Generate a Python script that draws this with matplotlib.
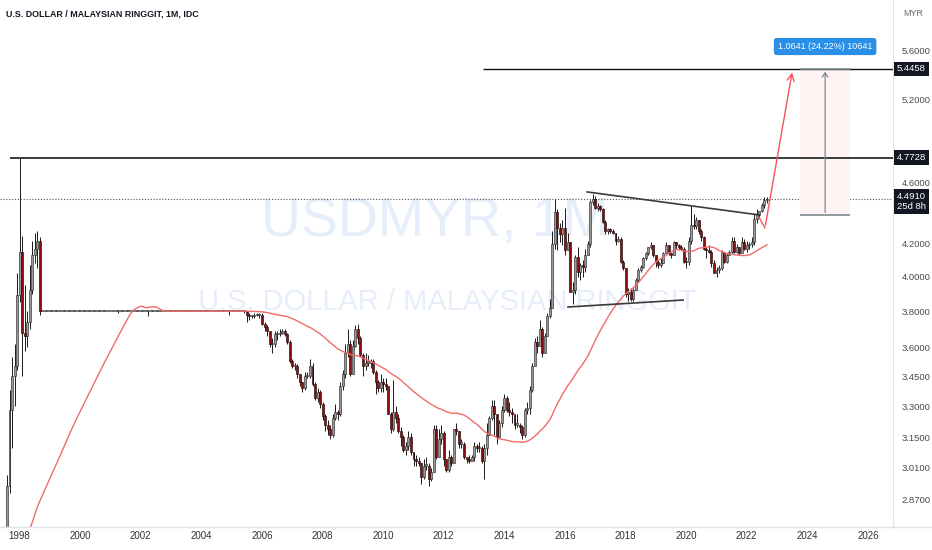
import numpy as np
import matplotlib
matplotlib.use('Agg')
import matplotlib.pyplot as plt
import matplotlib.transforms as mtransforms
from matplotlib.patches import Rectangle
from matplotlib.lines import Line2D

plt.rcParams['font.family'] = ['Liberation Sans', 'DejaVu Sans']

# monthly closes before the visible window (Jan 1994 - Jun 1997), only used by the MA
early_close = [
    2.77, 2.72, 2.71, 2.66, 2.59, 2.58, 2.56, 2.56, 2.56, 2.56, 2.56, 2.56,
    2.56, 2.55, 2.53, 2.46, 2.45, 2.44, 2.45, 2.49, 2.53, 2.53, 2.54, 2.54,
    2.54, 2.56, 2.56, 2.50, 2.49, 2.50, 2.49, 2.50, 2.51, 2.53, 2.53, 2.53,
    2.49, 2.48, 2.48, 2.50, 2.51, 2.52,
]

# monthly candles, Jul 1997 .. Sep 2022
close = [
    2.63, 2.93, 3.28, 3.45, 3.50, 3.89,                                # 1997 Jul-Dec
    4.15, 3.68, 3.66, 3.74, 3.92, 4.13, 4.17, 4.22, 3.80, 3.80, 3.80, 3.80,  # 1998
    3.80, 3.80, 3.80, 3.80, 3.80, 3.80, 3.80, 3.80, 3.80, 3.80, 3.80, 3.80,  # 1999
    3.80, 3.80, 3.80, 3.80, 3.80, 3.80, 3.80, 3.80, 3.80, 3.80, 3.80, 3.80,  # 2000
    3.80, 3.80, 3.80, 3.80, 3.80, 3.80, 3.80, 3.80, 3.80, 3.80, 3.80, 3.80,  # 2001
    3.80, 3.80, 3.80, 3.80, 3.80, 3.80, 3.80, 3.80, 3.80, 3.80, 3.80, 3.80,  # 2002
    3.80, 3.80, 3.80, 3.80, 3.80, 3.80, 3.80, 3.80, 3.80, 3.80, 3.80, 3.80,  # 2003
    3.80, 3.80, 3.80, 3.80, 3.80, 3.80, 3.80, 3.80, 3.80, 3.80, 3.80, 3.80,  # 2004
    3.80, 3.80, 3.80, 3.80, 3.80, 3.80, 3.78, 3.77, 3.77, 3.78, 3.78, 3.78,  # 2005
    3.73, 3.71, 3.69, 3.62, 3.62, 3.67, 3.67, 3.68, 3.69, 3.67, 3.63, 3.53,  # 2006
    3.50, 3.50, 3.46, 3.42, 3.39, 3.45, 3.45, 3.50, 3.41, 3.34, 3.37, 3.31,  # 2007
    3.25, 3.21, 3.19, 3.16, 3.24, 3.27, 3.26, 3.40, 3.46, 3.57, 3.62, 3.46,  # 2008
    3.61, 3.70, 3.65, 3.56, 3.50, 3.52, 3.52, 3.53, 3.47, 3.42, 3.39, 3.42,  # 2009
    3.41, 3.40, 3.26, 3.19, 3.27, 3.24, 3.18, 3.15, 3.09, 3.11, 3.15, 3.08,  # 2010
    3.05, 3.04, 3.03, 2.97, 3.02, 3.02, 2.96, 2.99, 3.19, 3.06, 3.14, 3.17,  # 2011
    3.05, 3.00, 3.06, 3.03, 3.19, 3.18, 3.12, 3.12, 3.06, 3.05, 3.04, 3.06,  # 2012
    3.11, 3.10, 3.10, 3.04, 3.10, 3.16, 3.24, 3.30, 3.26, 3.15, 3.22, 3.28,  # 2013
    3.34, 3.28, 3.27, 3.26, 3.21, 3.21, 3.20, 3.16, 3.28, 3.29, 3.38, 3.50,  # 2014
    3.63, 3.61, 3.70, 3.57, 3.66, 3.77, 3.82, 4.20, 4.40, 4.30, 4.26, 4.30,  # 2015
    4.16, 4.21, 3.91, 3.92, 4.12, 4.03, 4.07, 4.06, 4.13, 4.20, 4.47, 4.49,  # 2016
    4.43, 4.44, 4.42, 4.34, 4.28, 4.29, 4.28, 4.27, 4.22, 4.23, 4.09, 4.05,  # 2017
    3.90, 3.91, 3.87, 3.92, 3.98, 4.04, 4.06, 4.11, 4.14, 4.18, 4.19, 4.13,  # 2018
    4.09, 4.07, 4.08, 4.14, 4.19, 4.14, 4.13, 4.21, 4.19, 4.18, 4.17, 4.09,  # 2019
    4.09, 4.22, 4.32, 4.31, 4.35, 4.28, 4.24, 4.17, 4.16, 4.15, 4.08, 4.02,  # 2020
    4.04, 4.05, 4.15, 4.09, 4.13, 4.15, 4.22, 4.15, 4.18, 4.14, 4.21, 4.17,  # 2021
    4.19, 4.20, 4.21, 4.36, 4.39, 4.41, 4.45, 4.48, 4.491,                  # 2022 Jan-Sep
]
high = [
    2.65, 2.98, 3.38, 3.55, 3.62, 4.02,
    4.7728, 4.25, 3.95, 3.80, 4.07, 4.22, 4.27, 4.28, 4.24, 3.80, 3.80, 3.80,
    3.80, 3.80, 3.80, 3.80, 3.80, 3.80, 3.80, 3.80, 3.80, 3.80, 3.80, 3.80,
    3.80, 3.80, 3.80, 3.80, 3.80, 3.80, 3.80, 3.80, 3.80, 3.80, 3.80, 3.80,
    3.80, 3.80, 3.80, 3.80, 3.80, 3.80, 3.80, 3.80, 3.80, 3.80, 3.80, 3.80,
    3.80, 3.80, 3.80, 3.80, 3.80, 3.80, 3.80, 3.80, 3.80, 3.80, 3.80, 3.80,
    3.80, 3.80, 3.80, 3.80, 3.80, 3.80, 3.80, 3.80, 3.80, 3.80, 3.80, 3.80,
    3.80, 3.80, 3.80, 3.80, 3.80, 3.80, 3.80, 3.80, 3.80, 3.80, 3.80, 3.80,
    3.80, 3.80, 3.80, 3.80, 3.80, 3.80, 3.80, 3.79, 3.78, 3.79, 3.79, 3.79,
    3.79, 3.74, 3.72, 3.69, 3.65, 3.69, 3.69, 3.70, 3.70, 3.70, 3.68, 3.64,
    3.54, 3.52, 3.51, 3.46, 3.42, 3.47, 3.47, 3.54, 3.52, 3.42, 3.39, 3.38,
    3.32, 3.26, 3.23, 3.21, 3.26, 3.31, 3.28, 3.42, 3.48, 3.62, 3.70, 3.64,
    3.64, 3.72, 3.73, 3.66, 3.57, 3.57, 3.56, 3.54, 3.54, 3.48, 3.43, 3.46,
    3.44, 3.44, 3.40, 3.27, 3.43, 3.30, 3.26, 3.20, 3.16, 3.13, 3.18, 3.17,
    3.08, 3.07, 3.06, 3.03, 3.05, 3.06, 3.03, 3.01, 3.21, 3.21, 3.19, 3.21,
    3.18, 3.05, 3.09, 3.07, 3.19, 3.22, 3.18, 3.14, 3.13, 3.06, 3.07, 3.07,
    3.13, 3.12, 3.13, 3.11, 3.12, 3.22, 3.25, 3.33, 3.33, 3.25, 3.23, 3.30,
    3.36, 3.35, 3.32, 3.29, 3.25, 3.26, 3.22, 3.21, 3.29, 3.32, 3.40, 3.52,
    3.65, 3.66, 3.75, 3.71, 3.68, 3.79, 3.87, 4.28, 4.49, 4.42, 4.33, 4.35,
    4.43, 4.27, 4.21, 3.97, 4.13, 4.18, 4.08, 4.10, 4.17, 4.22, 4.48, 4.52,
    4.51, 4.46, 4.45, 4.43, 4.35, 4.30, 4.30, 4.29, 4.27, 4.25, 4.24, 4.10,
    4.05, 3.93, 3.93, 3.93, 3.99, 4.05, 4.07, 4.12, 4.15, 4.18, 4.21, 4.19,
    4.13, 4.10, 4.11, 4.15, 4.21, 4.19, 4.14, 4.22, 4.21, 4.20, 4.19, 4.18,
    4.12, 4.24, 4.44, 4.39, 4.37, 4.35, 4.29, 4.25, 4.18, 4.19, 4.16, 4.10,
    4.06, 4.07, 4.16, 4.15, 4.14, 4.16, 4.24, 4.24, 4.20, 4.18, 4.24, 4.23,
    4.22, 4.21, 4.24, 4.39, 4.42, 4.41, 4.46, 4.50, 4.50,
]
low = [
    2.51, 2.62, 2.90, 3.10, 3.30, 3.48,
    3.85, 3.45, 3.58, 3.60, 3.70, 3.90, 4.08, 4.05, 3.78, 3.80, 3.80, 3.80,
    3.80, 3.80, 3.80, 3.80, 3.80, 3.80, 3.80, 3.80, 3.80, 3.80, 3.80, 3.80,
    3.80, 3.80, 3.80, 3.80, 3.80, 3.80, 3.80, 3.80, 3.80, 3.80, 3.80, 3.80,
    3.80, 3.80, 3.80, 3.79, 3.80, 3.80, 3.80, 3.80, 3.80, 3.80, 3.80, 3.80,
    3.80, 3.80, 3.80, 3.77, 3.80, 3.80, 3.80, 3.80, 3.80, 3.80, 3.80, 3.80,
    3.80, 3.80, 3.80, 3.80, 3.80, 3.80, 3.80, 3.80, 3.80, 3.80, 3.80, 3.80,
    3.80, 3.80, 3.80, 3.80, 3.80, 3.80, 3.80, 3.80, 3.80, 3.80, 3.80, 3.78,
    3.80, 3.80, 3.80, 3.80, 3.80, 3.79, 3.74, 3.75, 3.76, 3.76, 3.77, 3.76,
    3.72, 3.69, 3.66, 3.60, 3.57, 3.60, 3.64, 3.66, 3.67, 3.66, 3.62, 3.52,
    3.49, 3.48, 3.44, 3.40, 3.37, 3.38, 3.44, 3.44, 3.40, 3.33, 3.32, 3.29,
    3.23, 3.18, 3.16, 3.14, 3.15, 3.23, 3.23, 3.25, 3.38, 3.44, 3.55, 3.45,
    3.46, 3.60, 3.62, 3.55, 3.45, 3.48, 3.50, 3.49, 3.46, 3.36, 3.37, 3.37,
    3.37, 3.38, 3.26, 3.17, 3.18, 3.22, 3.17, 3.11, 3.08, 3.07, 3.09, 3.07,
    3.02, 3.02, 3.02, 2.94, 2.96, 3.00, 2.93, 2.95, 2.99, 3.05, 3.06, 3.12,
    3.02, 2.99, 2.99, 3.02, 3.03, 3.16, 3.10, 3.10, 3.05, 3.03, 3.03, 3.04,
    3.04, 3.08, 3.08, 3.03, 2.96, 3.07, 3.16, 3.23, 3.16, 3.12, 3.16, 3.20,
    3.27, 3.27, 3.25, 3.22, 3.19, 3.20, 3.17, 3.14, 3.15, 3.26, 3.26, 3.37,
    3.50, 3.57, 3.61, 3.55, 3.57, 3.66, 3.76, 3.82, 4.17, 4.16, 4.21, 4.19,
    4.13, 4.16, 3.91, 3.84, 3.90, 4.00, 3.98, 4.00, 4.03, 4.13, 4.18, 4.45,
    4.42, 4.41, 4.41, 4.33, 4.26, 4.26, 4.27, 4.26, 4.19, 4.21, 4.08, 4.04,
    3.88, 3.86, 3.86, 3.86, 3.92, 3.97, 4.03, 4.05, 4.10, 4.13, 4.17, 4.12,
    4.06, 4.05, 4.06, 4.08, 4.14, 4.13, 4.11, 4.13, 4.17, 4.16, 4.16, 4.08,
    4.05, 4.07, 4.20, 4.29, 4.29, 4.26, 4.22, 4.16, 4.11, 4.14, 4.06, 4.02,
    4.00, 4.02, 4.04, 4.08, 4.08, 4.13, 4.14, 4.14, 4.14, 4.13, 4.14, 4.16,
    4.15, 4.17, 4.18, 4.19, 4.33, 4.37, 4.40, 4.43, 4.46,
]

ma_len = 50
year_ticks = list(range(1998, 2027, 2))
price_ticks = [2.87, 3.01, 3.15, 3.30, 3.45, 3.60, 3.80, 4.00, 4.20, 4.60, 5.20, 5.60]

# drawings on the chart
resist_level = 4.7728
target_level = 5.4458
last_price = 4.491
upper_trend = ([2016.73, 2022.43], [4.536, 4.383])
lower_trend = ([2016.10, 2019.90], [3.823, 3.863])
path_x = [2022.40, 2022.60, 2023.51]
path_y = [4.37, 4.30, 5.44]
measure_from, measure_to = 4.3817, 5.4458
measure_x = (2023.76, 2025.41)
measure_text = '1.0641 (24.22%) 10641'

c = np.array(close)
h = np.array(high)
l = np.array(low)
o = np.concatenate([[early_close[-1]], c[:-1]])
t = 1997.5 + np.arange(len(c)) / 12.0

allc = np.array(early_close + close)
sma = np.convolve(allc, np.ones(ma_len) / ma_len, mode='valid')
t_sma = 1994 + (np.arange(len(sma)) + ma_len - 1) / 12.0

W, H = 932, 550
fig = plt.figure(figsize=(W / 100, H / 100), dpi=100)
ax = fig.add_axes([0, 23 / H, 893 / W, 527 / H])
ax.set_yscale('log')
ax.set_xlim(1997.353, 2026.825)
ax.set_ylim(2.757, 6.033)

# watermark
wm = '#e6edfb'
ax.text(435 / 893, 1 - 222 / 527, 'USDMYR, 1M', transform=ax.transAxes, ha='center', va='center',
        fontsize=40, color=wm, zorder=0)
ax.text(447 / 893, 1 - 302 / 527, 'U.S. DOLLAR / MALAYSIAN RINGGIT', transform=ax.transAxes,
        ha='center', va='center', fontsize=21, color=wm, zorder=0)

# candles
up = c >= o
lo_b = np.minimum(o, c)
hi_b = np.maximum(o, c)
hb = np.maximum(hi_b - lo_b, 0.006)
ax.vlines(t, l, h, color='#1a1a1a', lw=0.7, zorder=2)
ax.bar(t[up], hb[up], bottom=lo_b[up], width=0.065, color='#999999', edgecolor='#2e2e2e', lw=0.45, zorder=3)
ax.bar(t[~up], hb[~up], bottom=lo_b[~up], width=0.065, color='#8a1010', edgecolor='#240606', lw=0.45, zorder=3)

# moving average
ax.plot(t_sma, sma, color='#f26b6b', lw=1.0, zorder=4)

# horizontal levels
ax.hlines(resist_level, 1997.68, 2026.825, color='#3a3a3a', lw=1.4, zorder=5)
ax.hlines(target_level, 2013.30, 2026.825, color='#111111', lw=1.0, zorder=5)
ax.axhline(last_price, color='#555555', lw=0.8, ls=(0, (1, 1.6)), zorder=1)

# trend lines
ax.plot(*upper_trend, color='#3a3a3a', lw=1.2, zorder=5)
ax.plot(*lower_trend, color='#3a3a3a', lw=1.2, zorder=5)

# projected path
ax.plot(path_x[:2], path_y[:2], color='#f7525f', lw=1.0, zorder=6)
ax.annotate('', xy=(path_x[2], path_y[2]), xytext=(path_x[1], path_y[1]),
            arrowprops=dict(arrowstyle='->,head_length=0.5,head_width=0.25', color='#f7525f', lw=1.0),
            zorder=6)

# measure tool
ax.add_patch(Rectangle((measure_x[0], measure_from), measure_x[1] - measure_x[0], measure_to - measure_from,
                       fc='#fff3f4', ec='none', zorder=1))
ax.hlines([measure_from, measure_to], measure_x[0], measure_x[1], color='#7d8b8c', lw=1.2, zorder=5)
mx = (measure_x[0] + measure_x[1]) / 2
ax.annotate('', xy=(mx, measure_to), xytext=(mx, measure_from),
            arrowprops=dict(arrowstyle='->,head_length=0.3,head_width=0.2', color='#7d8b8c', lw=0.9), zorder=5)
ax.text(mx, 5.63, measure_text, ha='center', va='center', fontsize=6.5, color='white', zorder=7,
        bbox=dict(boxstyle='round,pad=0.45,rounding_size=0.3', fc='#2a8fe6', ec='none'))

# axes styling
for s in ['top', 'left', 'bottom']:
    ax.spines[s].set_visible(False)
ax.spines['right'].set_color('#e0e3eb')
ax.yaxis.tick_right()
ax.yaxis.set_minor_locator(matplotlib.ticker.NullLocator())
ax.set_yticks(price_ticks)
ax.set_yticklabels(['%.4f' % v for v in price_ticks])
ax.tick_params(axis='y', length=0, pad=6, labelsize=6.8, labelcolor='#4a4a4a')
ax.set_xticks(year_ticks)
ax.set_xticklabels([str(y) for y in year_ticks])
ax.xaxis.set_minor_locator(matplotlib.ticker.NullLocator())
ax.tick_params(axis='x', length=0, pad=3, labelsize=7, labelcolor='#333333')

# price labels on the scale
bt = mtransforms.blended_transform_factory(ax.transAxes, ax.transData)
box = dict(boxstyle='square,pad=0.3', fc='#131722', ec='none')
for v in [target_level, resist_level]:
    ax.text(1.0 + 4 / 893, v, '%.4f' % v, transform=bt, ha='left', va='center', fontsize=6.8,
            color='white', bbox=box, clip_on=False, zorder=10)
ax.annotate('%.4f\n25d 8h' % last_price, xy=(1.0, last_price), xycoords=bt, xytext=(3, 5),
            textcoords='offset points', ha='left', va='top', fontsize=6.8, color='white',
            linespacing=1.15, bbox=box, annotation_clip=False, zorder=10)

fig.text(903 / W, 1 - 14 / H, 'MYR', fontsize=6.5, color='#6a6a6a', va='center')
fig.text(6 / W, 1 - 14 / H, 'U.S. DOLLAR / MALAYSIAN RINGGIT, 1M, IDC', fontsize=6.4, color='#131722',
         va='center', fontweight='bold')
fig.add_artist(Line2D([0, 1], [23 / H, 23 / H], color='#e0e3eb', lw=1, transform=fig.transFigure))

fig.savefig('out.png', dpi=100)
